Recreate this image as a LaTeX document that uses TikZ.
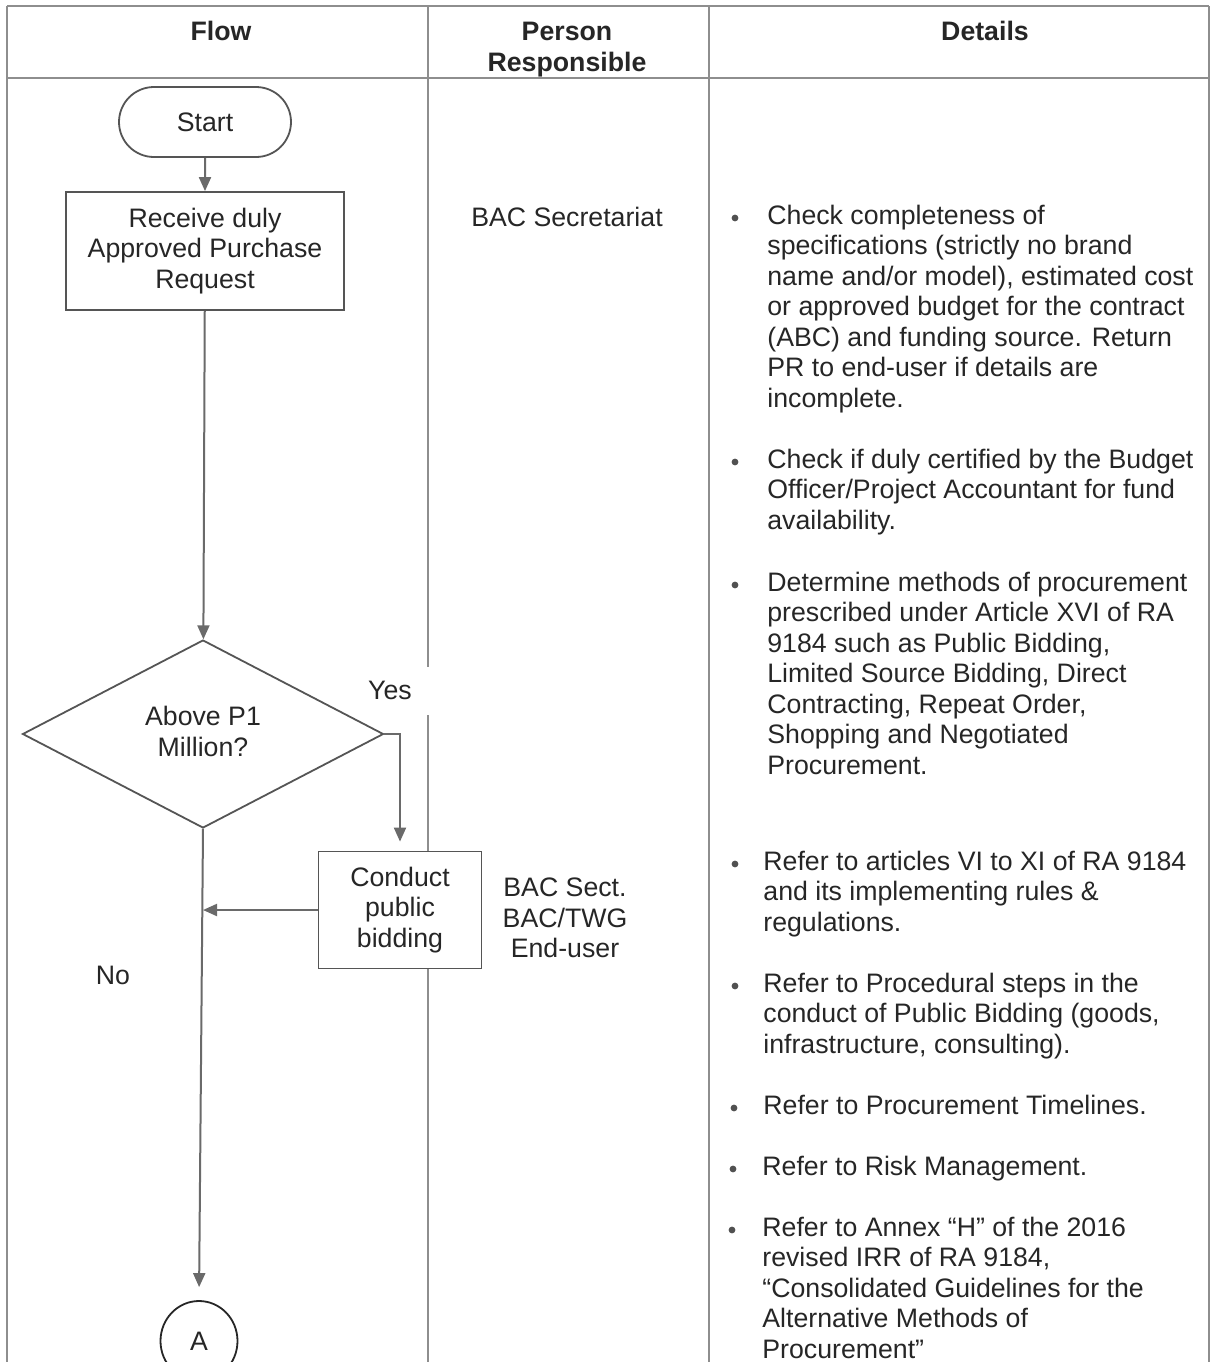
\documentclass[tikz,border=0pt]{standalone}
\usepackage{fontspec}
\setmainfont{Liberation Sans}
\usetikzlibrary{shapes.geometric,shapes.misc,arrows.meta}

\definecolor{ink}{HTML}{262626}
\definecolor{rule}{HTML}{8E8E8E}
\definecolor{edge}{HTML}{555555}
\definecolor{arrowgray}{HTML}{6A6A6A}

\begin{document}
\begin{tikzpicture}[x=0.5pt,y=-0.5pt,
	font=\fontsize{13.35}{15.25}\selectfont, text=ink, inner sep=0pt,
	grid/.style={draw=rule, line width=0.7pt},
	term/.style={rounded rectangle, draw=edge, line width=0.9pt, fill=white, minimum width=86pt, minimum height=35pt},
	proc/.style={rectangle, draw=edge, line width=0.9pt, fill=white, align=center},
	dec/.style={diamond, draw=edge, line width=0.9pt, fill=white, align=center, aspect=1.92, minimum width=180.5pt, minimum height=94pt},
	conn/.style={ellipse, draw=ink, line width=0.9pt, fill=white, minimum width=38.5pt, minimum height=40pt},
	flow/.style={draw=arrowgray, line width=1pt, -{Triangle[length=7pt,width=6pt]}},
	head/.style={font=\fontsize{13.35}{15.5}\selectfont\bfseries, align=center},
	detail/.style={anchor=base west, align=left},
	bul/.style={circle, fill=ink!80, minimum size=3.4pt}]
	\useasboundingbox (0,0) rectangle (1214,1362);

	% table rules
	\draw[grid] (7,6) -- (1209,6);
	\draw[grid] (7,78) -- (1209,78);
	\draw[grid] (7,6) -- (7,1362);
	\draw[grid] (1209,6) -- (1209,1362);
	\draw[grid] (709,6) -- (709,1362);
	\draw[grid] (428,6) -- (428,667);
	\draw[grid] (428,715) -- (428,1362);

	% headings
	\node[head] (hflow) at (221,31) {Flow};
	\node[head] (hperson) at (567,50) {Person\\Responsible};
	\node[head] (hdetails) at (985,31) {Details};

	% flow chart
	\node[term] (start) at (205,122) {Start};
	\node[proc, minimum width=139pt, minimum height=59pt] (receive) at (205,251) {Receive duly\\Approved Purchase\\Request};
	\node[dec] (above) at (203,734) {\raisebox{2.5pt}{Above P1}\\\raisebox{2.5pt}{Million?}};
	\node[proc, minimum width=81.5pt, minimum height=58.5pt] (bidding) at (400,910) {\raisebox{-1.5pt}{Conduct}\\\raisebox{-1.5pt}{public}\\\raisebox{-1.5pt}{bidding}};
	\node[conn] (A) at (199,1341) {A};

	\draw[flow] (start) -- (receive);
	\draw[flow] (receive) -- (above);
	\draw[flow, shorten >=4.5pt] (above.east) -| (bidding.north);
	\draw[flow] (bidding.west) -- (bidding.west -| above.south);
	\draw[flow, shorten >=6.5pt] (above.south) -- (A.north);

	\node (yes) at (390,690) {Yes};
	\node (no) at (113,975) {No};

	% persons responsible
	\node (secretariat) at (567,217) {BAC Secretariat};
	\node[align=center] (team) at (565,918) {BAC Sect.\\BAC/TWG\\End-user};

	% details (base = baseline of the last line)
	\node[bul] (b1) at (735,218) {};
	\node[detail] (d1) at (767,407) {Check completeness of\\specifications (strictly no brand\\name and/or model), estimated cost\\or approved budget for the contract\\(ABC) and funding source. Return\\PR to end-user if details are\\incomplete.};
	\node[bul] (b2) at (735,462) {};
	\node[detail] (d2) at (767,529) {Check if duly certified by the Budget\\Officer/Project Accountant for fund\\availability.};
	\node[bul] (b3) at (735,585) {};
	\node[detail] (d3) at (767,774) {Determine methods of procurement\\prescribed under Article XVI of RA\\9184 such as Public Bidding,\\Limited Source Bidding, Direct\\Contracting, Repeat Order,\\Shopping and Negotiated\\Procurement.};
	\node[bul] (b4) at (735,864) {};
	\node[detail] (d4) at (763,931) {Refer to articles VI to XI of RA 9184\\and its implementing rules \&\\regulations.};
	\node[bul] (b5) at (735,986) {};
	\node[detail] (d5) at (763,1053) {Refer to Procedural steps in the\\conduct of Public Bidding (goods,\\infrastructure, consulting).};
	\node[bul] (b6) at (734,1108) {};
	\node[detail] (d6) at (763,1114) {Refer to Procurement Timelines.};
	\node[bul] (b7) at (733,1169) {};
	\node[detail] (d7) at (762,1175) {Refer to Risk Management.};
	\node[bul] (b8) at (732,1230) {};
	\node[detail] (d8) at (762,1358) {Refer to Annex “H” of the 2016\\revised IRR of RA 9184,\\“Consolidated Guidelines for the\\Alternative Methods of\\Procurement”};
\end{tikzpicture}
\end{document}
